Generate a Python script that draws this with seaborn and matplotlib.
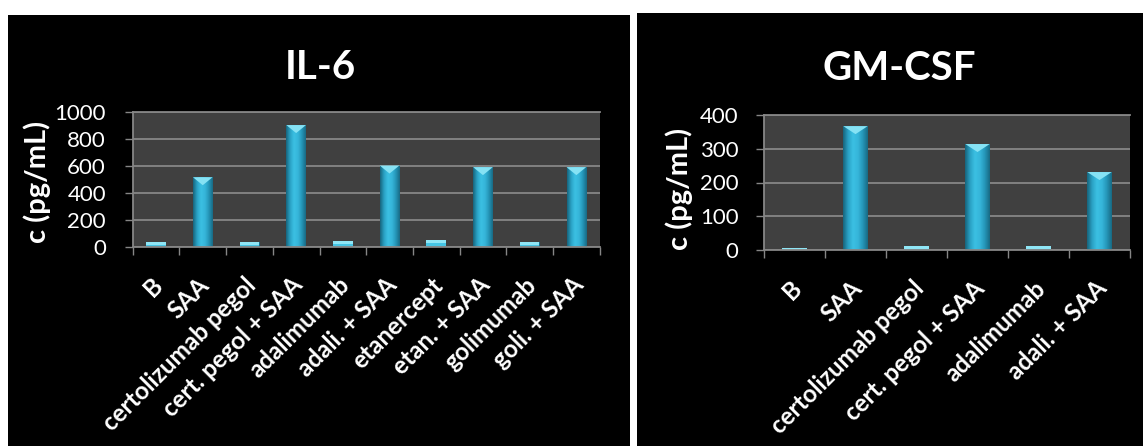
import numpy as np
import pandas as pd
import matplotlib
matplotlib.use("Agg")
import matplotlib.pyplot as plt
import seaborn as sns
from matplotlib.patches import Rectangle, Polygon
from matplotlib.colors import LinearSegmentedColormap
import matplotlib.transforms as mtrans

# ---------------- data ----------------
il6_categories = ["B", "SAA", "certolizumab pegol", "cert. pegol + SAA", "adalimumab",
                  "adali. + SAA", "etanercept", "etan. + SAA", "golimumab", "goli. + SAA"]
il6_values = [32, 517, 32, 905, 40, 604, 50, 592, 32, 592]
il6_yticks = [0, 200, 400, 600, 800, 1000]

gm_categories = ["B", "SAA", "certolizumab pegol", "cert. pegol + SAA", "adalimumab", "adali. + SAA"]
gm_values = [6, 367, 11, 314, 11, 231]
gm_yticks = [0, 100, 200, 300, 400]

titles = ["IL-6", "GM-CSF"]
ylabel = "c (pg/mL)"

# ---------------- style ----------------
sns.set_theme(style="dark")
plt.rcParams["font.family"] = ["Lato", "DejaVu Sans"]

W, H = 1146, 446
fig = plt.figure(figsize=(W / 100, H / 100), dpi=100, facecolor="white")

def fx(px):
    return px / W

def fy(py):
    return 1 - py / H

# black panels
fig.patches.append(Rectangle((fx(8), 0), fx(630) - fx(8), fy(15), transform=fig.transFigure,
                             facecolor="black", edgecolor="none", zorder=-5))
fig.patches.append(Rectangle((fx(637), 0), fx(1143) - fx(637), fy(13), transform=fig.transFigure,
                             facecolor="black", edgecolor="none", zorder=-5))

GRID = "#868686"
bar_cmap = LinearSegmentedColormap.from_list(
    "bar", ["#17657d", "#2aa1c4", "#3bc0e3", "#36b6da", "#2596b8", "#186a84"])


def draw_panel(ax, cats, vals, yticks, width, bevel_px, label_pad):
    df = pd.DataFrame({"cat": cats, "val": vals})
    sns.barplot(data=df, x="cat", y="val", order=cats, ax=ax, color="#2fb0d4",
                width=width, saturation=1, linewidth=0, zorder=2)
    n = len(cats)
    ymin, ymax = yticks[0], yticks[-1]
    ax.set_facecolor("#404040")
    ax.set_xlim(-0.5, n - 0.5)
    ax.set_ylim(ymin, ymax)
    ax.set_xlabel("")
    ax.set_ylabel("")

    # bar shading: horizontal gradient + lighter bevel at top
    data_per_px = (ymax - ymin) / ax.bbox.height
    bev = bevel_px * data_per_px
    for p in list(ax.patches):
        x0, y0 = p.get_x(), p.get_y()
        w, h = p.get_width(), p.get_height()
        im = ax.imshow(np.linspace(0, 1, 64)[None, :], extent=[x0, x0 + w, y0, y0 + h],
                       aspect="auto", cmap=bar_cmap, zorder=2.1, interpolation="bilinear")
        im.set_clip_path(p)
        top = y0 + h
        if h > bev * 1.2:
            tri = Polygon([[x0, top], [x0 + w, top], [x0 + w / 2, top - bev]], closed=True,
                          facecolor="#86e2f4", edgecolor="none", zorder=2.2)
            ax.add_patch(tri)
        else:
            ax.add_patch(Rectangle((x0, y0), w, h, facecolor="#45c6e6", edgecolor="none", zorder=2.2))
            ax.add_patch(Rectangle((x0, top - min(h, bev * 0.35)), w, min(h, bev * 0.35),
                                   facecolor="#8fe6f6", edgecolor="none", zorder=2.3))
    ax.set_xlim(-0.5, n - 0.5)
    ax.set_ylim(ymin, ymax)

    ax.set_yticks(yticks)
    ax.set_yticklabels([str(t) for t in yticks])
    ax.grid(axis="y", color=GRID, linewidth=1.3)
    ax.grid(axis="x", visible=False)
    ax.set_axisbelow(True)
    for s in ["left", "bottom", "top"]:
        ax.spines[s].set_visible(True)
        ax.spines[s].set_color(GRID)
        ax.spines[s].set_linewidth(1.3)
    ax.spines["right"].set_visible(False)

    ax.tick_params(axis="y", which="major", length=5.8, width=1.0, color=GRID,
                   pad=label_pad, labelsize=16, labelcolor="white", left=True)
    ax.set_xticks(np.arange(n))
    ax.set_xticks(np.arange(-0.5, n), minor=True)
    ax.tick_params(axis="x", which="minor", length=5.8, width=1.0, color=GRID, bottom=True)
    ax.tick_params(axis="x", which="major", length=0, pad=19)
    ax.set_xticklabels(cats, rotation=45, ha="right", va="top", rotation_mode="anchor",
                       fontsize=17.5, fontweight="bold", color="white")
    shift = mtrans.ScaledTranslation(-5 / 100, 0, fig.dpi_scale_trans)
    for lbl in ax.get_xticklabels():
        lbl.set_transform(lbl.get_transform() + shift)


ax1 = fig.add_axes([fx(132.7), fy(246.7), fx(599.7) - fx(132.7), fy(112.3) - fy(246.7)])
draw_panel(ax1, il6_categories, il6_values, il6_yticks, 0.42, 8, 13.5)

ax2 = fig.add_axes([fx(764), fy(250), fx(1130) - fx(764), fy(115) - fy(250)])
draw_panel(ax2, gm_categories, gm_values, gm_yticks, 0.40, 8, 12.5)

# titles
fig.text(fx(320), fy(79), titles[0], ha="center", va="baseline", fontsize=29,
         fontweight="bold", color="white")
fig.text(fx(899), fy(80), titles[1], ha="center", va="baseline", fontsize=29,
         fontweight="bold", color="white")

# y labels
fig.text(fx(37), fy(181.5), ylabel, rotation=90, ha="center", va="center", fontsize=21,
         fontweight="bold", color="white")
fig.text(fx(679), fy(188.5), ylabel, rotation=90, ha="center", va="center", fontsize=21,
         fontweight="bold", color="white")

fig.savefig("out.png", dpi=100, facecolor="white")
